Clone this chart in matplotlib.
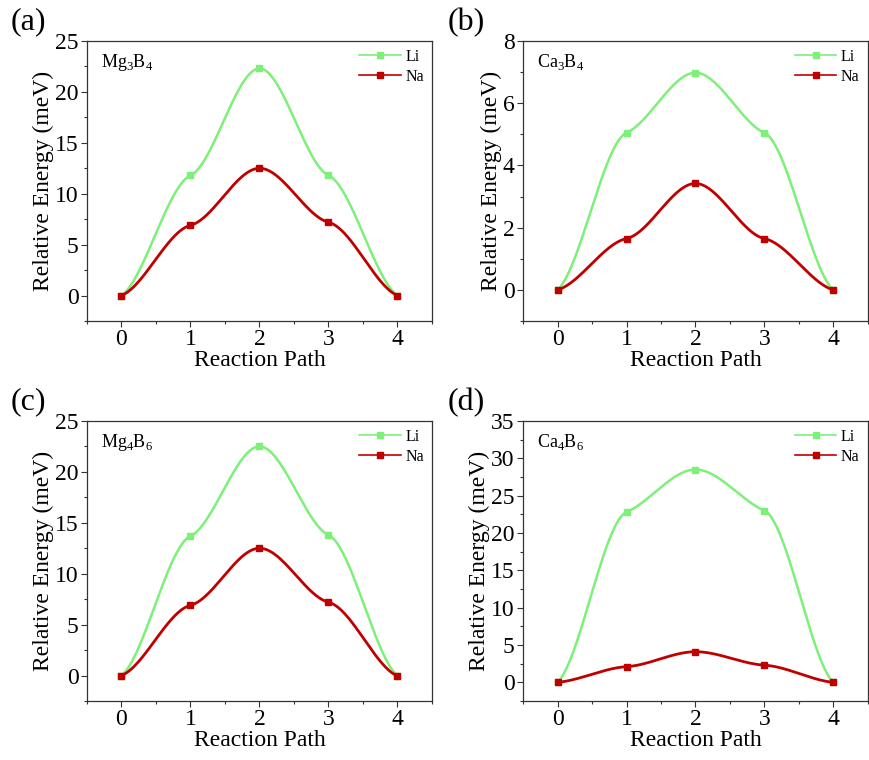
import numpy as np
import matplotlib.pyplot as plt
from matplotlib.ticker import MultipleLocator

plt.rcParams['font.family'] = ['Liberation Serif', 'DejaVu Serif']
plt.rcParams['mathtext.fontset'] = 'custom'
plt.rcParams['mathtext.rm'] = 'Liberation Serif'

path = [0, 1, 2, 3, 4]

labels = ['(a)', '(b)', '(c)', '(d)']
systems = ['Mg$_3$B$_4$', 'Ca$_3$B$_4$', 'Mg$_4$B$_6$', 'Ca$_4$B$_6$']

li_a = [0, 11.8, 22.3, 11.8, 0]
na_a = [0, 6.9, 12.5, 7.2, 0]
li_b = [0, 5.05, 6.98, 5.05, 0]
na_b = [0, 1.65, 3.42, 1.65, 0]
li_c = [0, 13.7, 22.5, 13.8, 0]
na_c = [0, 6.9, 12.5, 7.2, -0.05]
li_d = [0, 22.8, 28.5, 23.0, 0]
na_d = [0, 2.1, 4.1, 2.3, 0]

ylims = [(-2.5, 25), (-1, 8), (-2.5, 25), (-2.5, 35)]
ymajor = [5, 2, 5, 5]

LI_COLOR = '#7ef07a'
NA_COLOR = '#c00000'


def smooth(x, y, k=0.27, k_end=0.4, n=200):
    # cubic hermite through the points, with damped slopes (Origin-like spline)
    x = np.asarray(x, float)
    y = np.asarray(y, float)
    m = np.zeros_like(y)
    m[1:-1] = k * (y[2:] - y[:-2]) / (x[2:] - x[:-2])
    m[0] = k_end * (y[1] - y[0]) / (x[1] - x[0])
    m[-1] = k_end * (y[-1] - y[-2]) / (x[-1] - x[-2])
    xs, ys = [], []
    for i in range(len(x) - 1):
        h = x[i + 1] - x[i]
        t = np.linspace(0, 1, n)
        h00 = 2 * t**3 - 3 * t**2 + 1
        h10 = t**3 - 2 * t**2 + t
        h01 = -2 * t**3 + 3 * t**2
        h11 = t**3 - t**2
        xs.append(x[i] + t * h)
        ys.append(h00 * y[i] + h10 * h * m[i] + h01 * y[i + 1] + h11 * h * m[i + 1])
    return np.concatenate(xs), np.concatenate(ys)


fig = plt.figure(figsize=(8.69, 7.6), dpi=100)
boxes = [
    [0.1001, 0.5776, 0.3970, 0.3685],
    [0.6020, 0.5776, 0.3965, 0.3685],
    [0.1001, 0.0776, 0.3970, 0.3685],
    [0.6020, 0.0776, 0.3965, 0.3685],
]
li_all = [li_a, li_b, li_c, li_d]
na_all = [na_a, na_b, na_c, na_d]
label_x = [0.012, 0.515, 0.012, 0.515]
label_y = [0.99, 0.99, 0.49, 0.49]

for i in range(4):
    ax = fig.add_axes(boxes[i])
    xs, ys = smooth(path, li_all[i])
    ax.plot(xs, ys, color=LI_COLOR, lw=1.8)
    ax.plot(path, li_all[i], 's', color=LI_COLOR, ms=4.5)
    xs, ys = smooth(path, na_all[i])
    ax.plot(xs, ys, color=NA_COLOR, lw=2.0)
    ax.plot(path, na_all[i], 's', color=NA_COLOR, ms=4.5)
    # legend proxies
    ax.plot([], [], '-s', color=LI_COLOR, lw=1.2, ms=4, label='Li')
    ax.plot([], [], '-s', color=NA_COLOR, lw=1.2, ms=4, label='Na')
    handles, labs = ax.get_legend_handles_labels()
    ax.legend(handles, labs, loc='upper right', frameon=False, fontsize=11.5,
              handlelength=2.6, handletextpad=0.3, borderaxespad=0.3,
              labelspacing=0.25, borderpad=0.2)

    ax.set_xlim(-0.5, 4.5)
    ax.set_ylim(*ylims[i])
    ax.xaxis.set_major_locator(MultipleLocator(1))
    ax.xaxis.set_minor_locator(MultipleLocator(0.5))
    ax.yaxis.set_major_locator(MultipleLocator(ymajor[i]))
    ax.yaxis.set_minor_locator(MultipleLocator(ymajor[i] / 2))
    ax.tick_params(which='both', direction='out', top=False, right=False,
                   labelsize=17, color='#333333', pad=2)
    ax.tick_params(which='major', length=4, width=0.8)
    ax.tick_params(which='minor', length=2.5, width=0.8)
    for s in ax.spines.values():
        s.set_linewidth(0.9)
        s.set_color('#333333')
    ax.set_xlabel('Reaction Path', fontsize=17, labelpad=0)
    ax.set_ylabel('Relative Energy (meV)', fontsize=17, labelpad=1)
    ax.text(0.04, 0.96, systems[i], transform=ax.transAxes, fontsize=13,
            va='top', ha='left')
    fig.text(label_x[i], label_y[i], labels[i], fontsize=23, va='top', ha='left')

fig.savefig('out.png', dpi=100)
